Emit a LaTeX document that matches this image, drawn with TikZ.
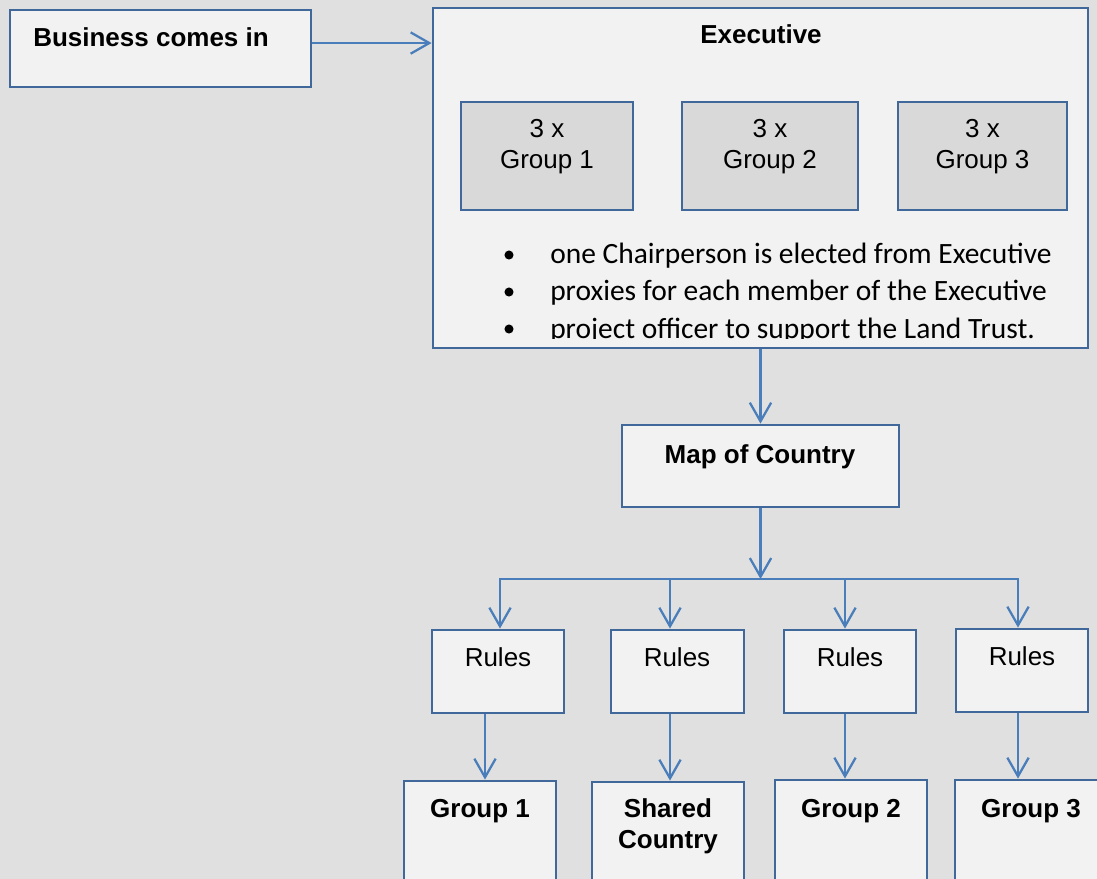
\documentclass[tikz,border=0pt]{standalone}
\usepackage{fontspec}
\setmainfont{Liberation Sans}
\newfontfamily\calfont{Carlito}
\usetikzlibrary{arrows.meta,fit}
\definecolor{bg}{HTML}{E0E0E0}
\definecolor{boxfill}{HTML}{F2F2F2}
\definecolor{grpfill}{HTML}{D9D9D9}
\definecolor{bord}{HTML}{41689A}
\definecolor{arrc}{HTML}{4A7EBB}
\begin{document}
\begin{tikzpicture}[x=0.75pt,y=-0.75pt,
  box/.style={draw=bord, line width=2.1pt, fill=boxfill, inner sep=0pt},
  grp/.style={box, fill=grpfill},
  arr/.style={draw=arrc, line width=1.7pt, -{Straight Barb[length=14pt,width=16pt,line width=1.7pt]}},
  ln/.style={draw=arrc, line width=1.7pt},
  lbl/.style={font=\fontsize{19.5}{23}\selectfont, anchor=base, inner sep=0pt},
  blbl/.style={lbl, font=\fontsize{19.5}{23}\selectfont\bfseries},
  bul/.style={font=\calfont\fontsize{22.1}{26}\selectfont, anchor=base west, inner sep=0pt}]
\fill[bg] (0,0) rectangle (1097,879);
\useasboundingbox (0,0) rectangle (1097,879);
\clip (0,0) rectangle (1097,879);

% Business
\node[box, fit={(10,10) (311,87)}] (biz) {};
\node[blbl, anchor=base west] (biztxt) at (33,46) {Business comes in};

% Executive
\node[box, fit={(433,8) (1088,348)}] (exec) {};
\node[blbl] (exectxt) at (761,43.5) {Executive};
\node[grp, fit={(461,102) (633,210)}] (eg1) {};
\node[grp, fit={(682,102) (858,210)}] (eg2) {};
\node[grp, fit={(898,102) (1067,210)}] (eg3) {};
\node[lbl] (eg1a) at (547,137) {3 x};
\node[lbl] (eg1b) at (547,168) {Group 1};
\node[lbl] (eg2a) at (770,137) {3 x};
\node[lbl] (eg2b) at (770,168) {Group 2};
\node[lbl] (eg3a) at (982.5,137) {3 x};
\node[lbl] (eg3b) at (982.5,168) {Group 3};

\fill (509,255) circle[radius=3.4pt];
\fill (509,292) circle[radius=3.4pt];
\fill (509,329) circle[radius=3.4pt];
\node[bul] (b1) at (550,263) {one Chairperson is elected from Executive};
\node[bul] (b2) at (550,300.5) {proxies for each member of the Executive};
\begin{scope}
  \clip (433,8) rectangle (1088,338.5);
  \node[bul] (b3) at (550,338) {project officer to support the Land Trust.};
\end{scope}

% Map
\node[box, fit={(622,425) (899,507)}] (map) {};
\node[blbl] (maptxt) at (760,463) {Map of Country};

% Rules
\node[box, fit={(432,630) (564,713)}] (r1) {};
\node[box, fit={(611,630) (744,713)}] (r2) {};
\node[box, fit={(784,630) (916,713)}] (r3) {};
\node[box, fit={(956,629) (1088,712)}] (r4) {};
\node[lbl] (r1t) at (498,666) {Rules};
\node[lbl] (r2t) at (677,666) {Rules};
\node[lbl] (r3t) at (850,666) {Rules};
\node[lbl] (r4t) at (1022,665) {Rules};

% Bottom groups
\node[box, fit={(404,781) (556,900)}] (g1) {};
\node[box, fit={(592,782) (744,900)}] (g2) {};
\node[box, fit={(775,780) (927,900)}] (g3) {};
\node[box, fit={(955,780) (1115,900)}] (g4) {};
\node[blbl] (g1t) at (480,817) {Group 1};
\node[blbl] (g2t) at (668,817) {Shared};
\node[blbl] (g2u) at (668,848) {Country};
\node[blbl] (g3t) at (851,817) {Group 2};
\node[blbl] (g4t) at (1031,817) {Group 3};

% connectors
\draw[arr] ([yshift=4.1pt]biz.east) -- ([yshift=4.1pt]biz.east -| exec.west);
\draw[arr] (exec.south) -- (map.north);
\coordinate (br) at (760.5,579);
\coordinate (d1) at (500,579);
\coordinate (d2) at (670,579);
\coordinate (d3) at (845,579);
\coordinate (d4) at (1018,579);
\draw[arr] (map.south) -- (br);
\draw[ln, line cap=rect] (d1) -- (d4);
\draw[arr] (d1) -- (d1 |- r1.north);
\draw[arr] (d2) -- (d2 |- r2.north);
\draw[arr] (d3) -- (d3 |- r3.north);
\draw[arr] (d4) -- (d4 |- r4.north);
\coordinate (e1) at (485,0);
\coordinate (e2) at (670,0);
\coordinate (e3) at (845,0);
\coordinate (e4) at (1018,0);
\draw[arr] (r1.south -| e1) -- (g1.north -| e1);
\draw[arr] (r2.south -| e2) -- (g2.north -| e2);
\draw[arr] (r3.south -| e3) -- (g3.north -| e3);
\draw[arr] (r4.south -| e4) -- (g4.north -| e4);
\end{tikzpicture}
\end{document}
